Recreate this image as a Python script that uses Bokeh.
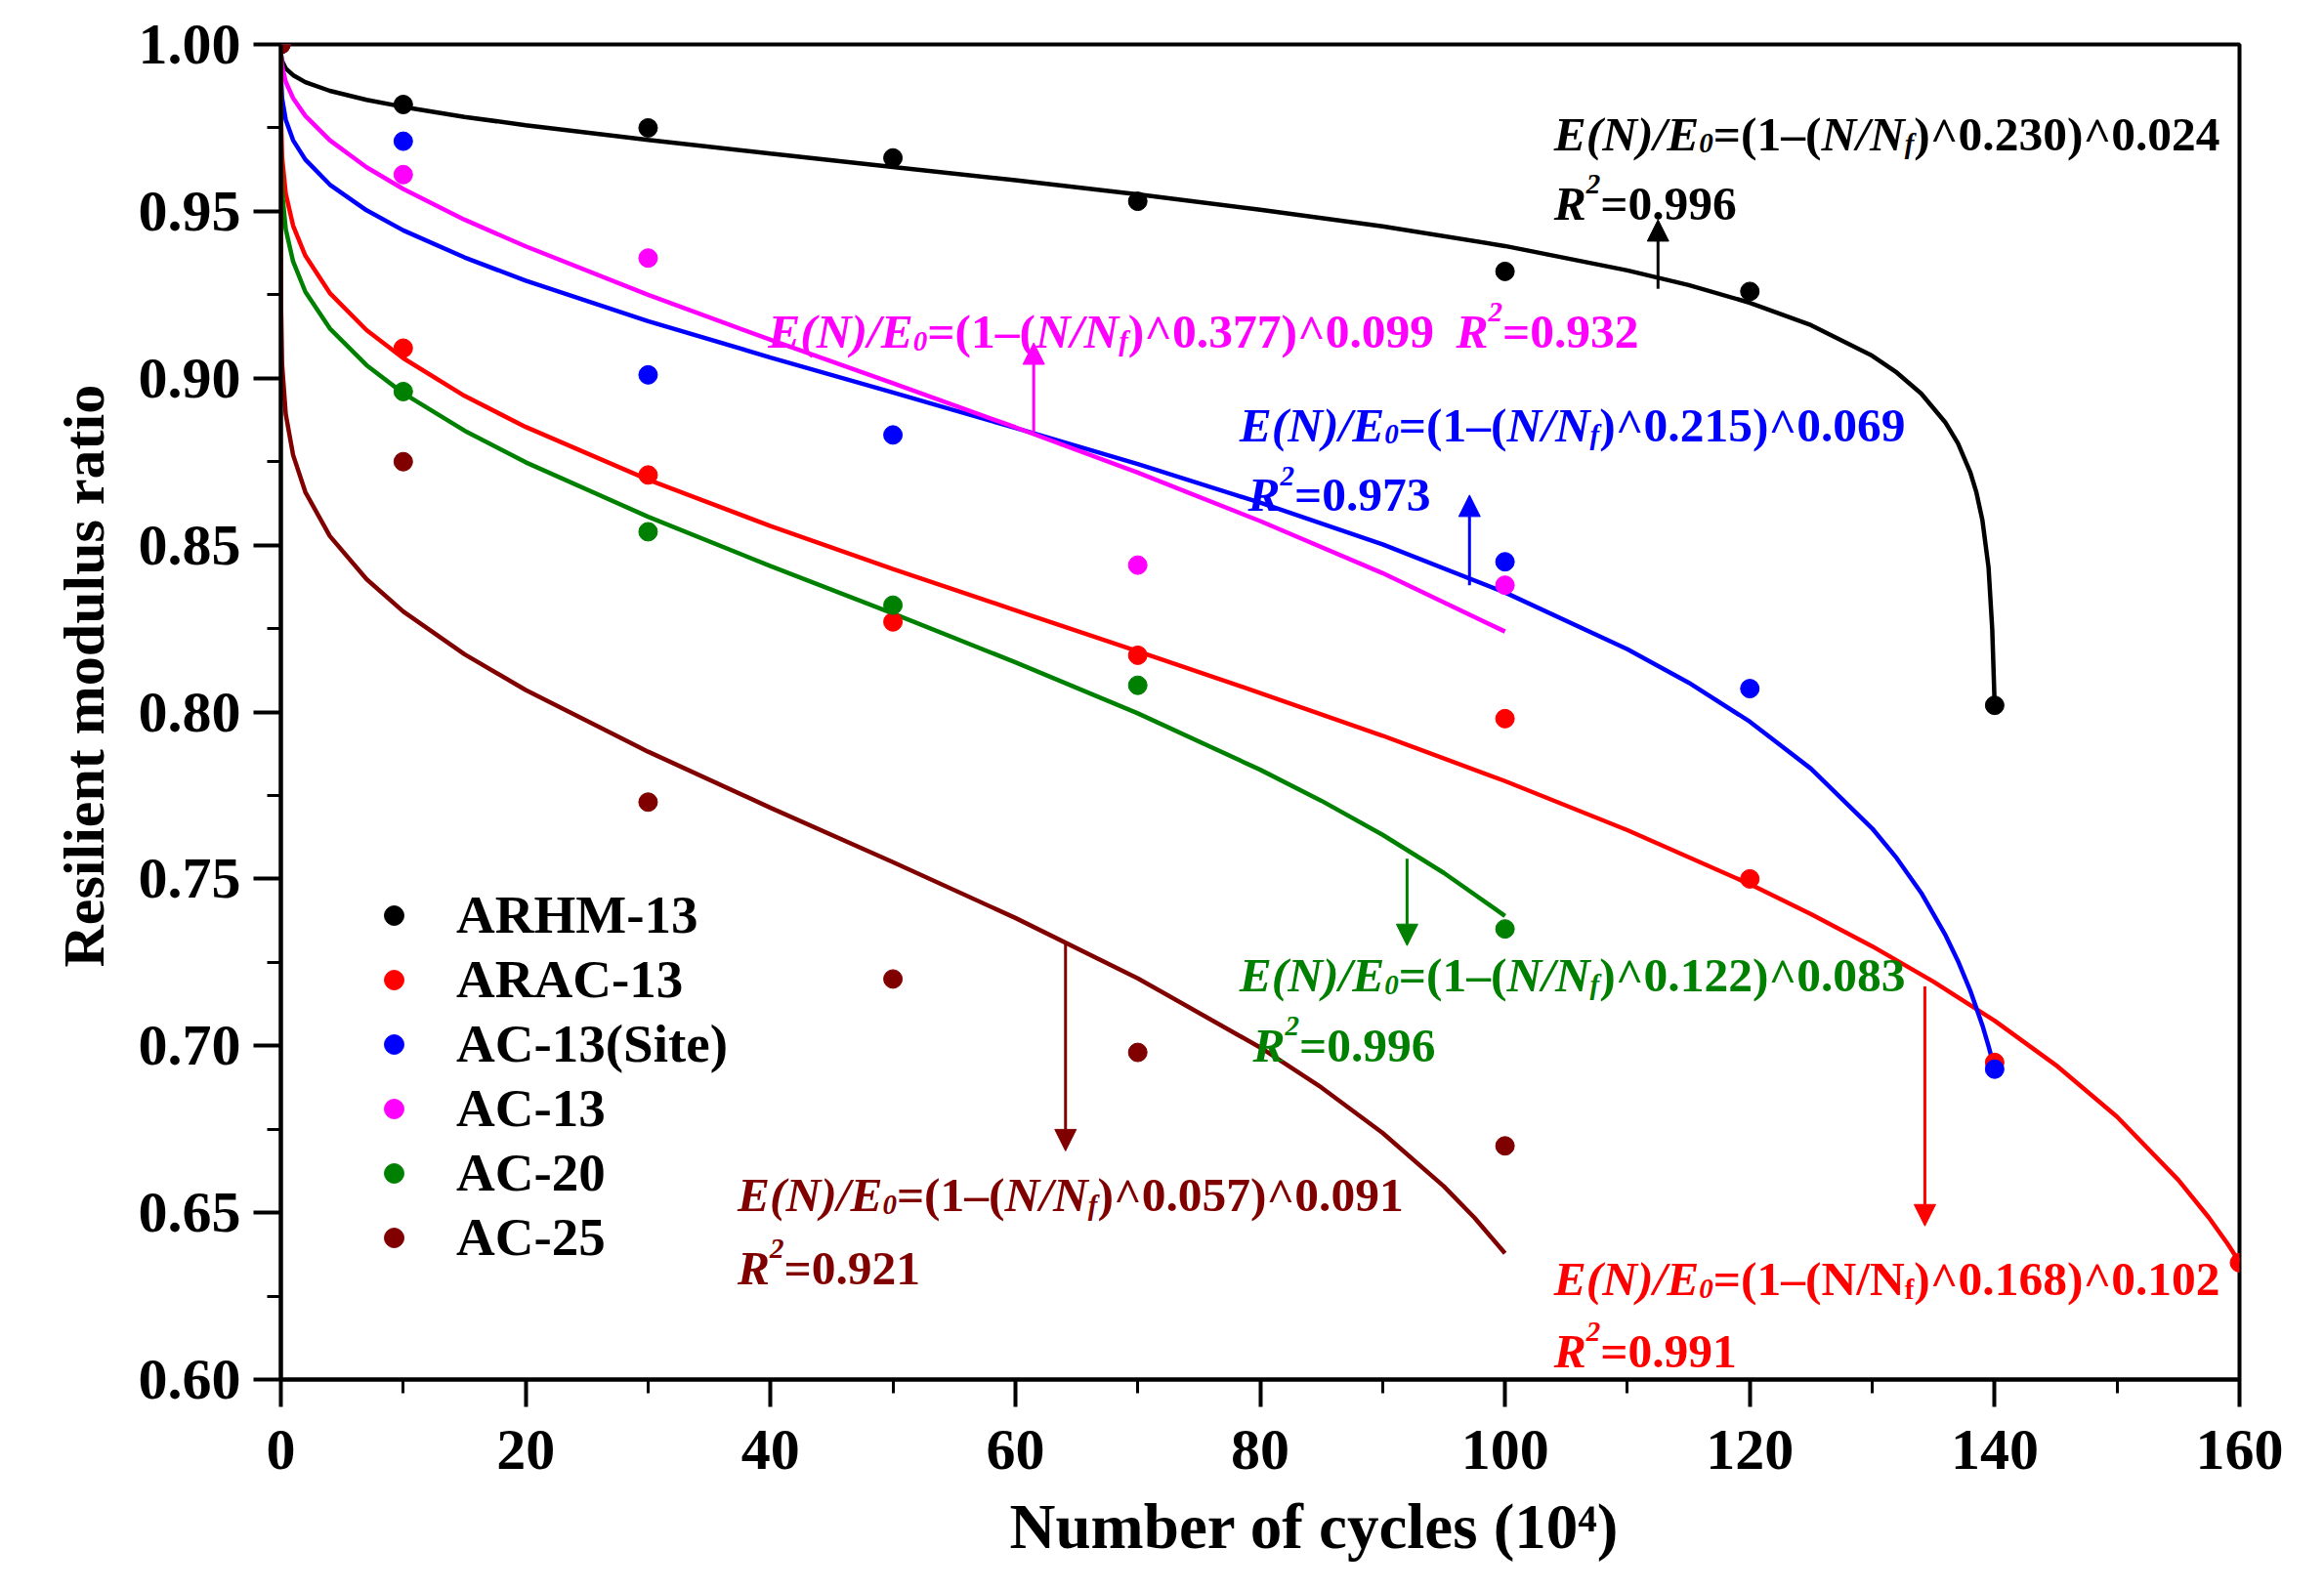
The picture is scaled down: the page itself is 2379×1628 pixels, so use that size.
from bokeh.plotting import figure
from bokeh.models import ColumnDataSource, SingleIntervalTicker, NumeralTickFormatter, Arrow, NormalHead, Range1d, Title
from bokeh.core.properties import value
from bokeh.embed import file_html
from bokeh.resources import INLINE

FONT = "Liberation Serif"

# measured points (cycles in 10^4, resilient modulus ratio)
series_names = ["ARHM-13", "ARAC-13", "AC-13(Site)", "AC-13", "AC-20", "AC-25"]
series_colors = ["#000000", "#ff0000", "#0000ff", "#ff00ff", "#008000", "#800000"]

cycles_arhm13 = [0, 10, 30, 50, 70, 100, 120, 140]
ratio_arhm13 = [1.000, 0.982, 0.975, 0.966, 0.953, 0.932, 0.926, 0.802]
cycles_arac13 = [0, 10, 30, 50, 70, 100, 120, 140, 160]
ratio_arac13 = [1.000, 0.909, 0.871, 0.827, 0.817, 0.798, 0.750, 0.695, 0.635]
cycles_ac13site = [0, 10, 30, 50, 100, 120, 140]
ratio_ac13site = [1.000, 0.971, 0.901, 0.883, 0.845, 0.807, 0.693]
cycles_ac13 = [0, 10, 30, 70, 100]
ratio_ac13 = [1.000, 0.961, 0.936, 0.844, 0.838]
cycles_ac20 = [0, 10, 30, 50, 70, 100]
ratio_ac20 = [1.000, 0.896, 0.854, 0.832, 0.808, 0.735]
cycles_ac25 = [0, 10, 30, 50, 70, 100]
ratio_ac25 = [1.000, 0.875, 0.773, 0.720, 0.698, 0.670]

# fitted curves
fit_n_arhm13 = [0, 0.01, 0.1, 0.4, 1, 2, 4, 7, 10, 15, 20, 30, 40, 50, 60, 70, 80, 90, 100,
                110, 115, 120, 125, 130, 132, 134, 136, 137, 138, 138.5, 139, 139.5, 139.8, 140]
fit_r_arhm13 = [1.000, 0.9972, 0.9950, 0.9928, 0.9908, 0.9887, 0.9861, 0.9834, 0.9813, 0.9783,
                0.9758, 0.9714, 0.9673, 0.9633, 0.9593, 0.9551, 0.9505, 0.9455, 0.9396,
                0.9323, 0.9279, 0.9226, 0.9159, 0.9067, 0.9017, 0.8954, 0.8866, 0.8805, 0.8719,
                0.8659, 0.8574, 0.8433, 0.8249, 0.802]
fit_n_arac13 = [0, 0.01, 0.1, 0.4, 1, 2, 4, 7, 10, 15, 20, 30, 40, 50, 60, 70, 80, 90, 100,
                110, 120, 125, 130, 135, 140, 145, 150, 155, 157.5, 159, 160]
fit_r_arac13 = [1.000, 0.9782, 0.9662, 0.9553, 0.9457, 0.9367, 0.9255, 0.9144, 0.9060, 0.8947,
                0.8854, 0.8696, 0.8557, 0.8428, 0.8305, 0.8182, 0.8057, 0.7929, 0.7793,
                0.7646, 0.7484, 0.7394, 0.7298, 0.7192, 0.7075, 0.6942, 0.6787, 0.6598, 0.6485,
                0.6408, 0.6352]
fit_n_ac13site = [0, 0.01, 0.1, 0.4, 1, 2, 4, 7, 10, 15, 20, 30, 40, 50, 60, 70, 80, 90, 100,
                  110, 115, 120, 125, 130, 132, 134, 136, 137, 138, 139, 139.5, 140]
fit_r_ac13site = [1.000, 0.9906, 0.9839, 0.9774, 0.9713, 0.9655, 0.9580, 0.9503, 0.9443, 0.9362,
                  0.9292, 0.9171, 0.9062, 0.8957, 0.8851, 0.8743, 0.8627, 0.8502, 0.8358,
                  0.8188, 0.8088, 0.7971, 0.7830, 0.7651, 0.7562, 0.7458, 0.7330, 0.7254, 0.7166,
                  0.7061, 0.6999, 0.6931]
fit_n_ac13 = [0, 0.01, 0.1, 0.4, 1, 2, 4, 7, 10, 15, 20, 30, 40, 50, 60, 70, 80, 90, 100]
fit_r_ac13 = [1.000, 0.9973, 0.9935, 0.9888, 0.9839, 0.9786, 0.9713, 0.9632, 0.9567, 0.9475,
              0.9395, 0.9250, 0.9115, 0.8985, 0.8853, 0.8717, 0.8572, 0.8416, 0.8241]
fit_n_ac20 = [0, 0.01, 0.1, 0.4, 1, 2, 4, 7, 10, 15, 20, 30, 40, 50, 60, 70, 80, 85, 90, 95, 100]
fit_r_ac20 = [1.000, 0.9689, 0.9559, 0.9446, 0.9350, 0.9259, 0.9149, 0.9039, 0.8955, 0.8843,
              0.8748, 0.8585, 0.8437, 0.8295, 0.8149, 0.7996, 0.7827, 0.7734, 0.7632, 0.7518,
              0.7389]
fit_n_ac25 = [0, 0.01, 0.1, 0.4, 1, 2, 4, 7, 10, 15, 20, 30, 40, 50, 60, 70, 80, 85, 90, 95,
              97.5, 100]
fit_r_ac25 = [1.000, 0.9226, 0.9041, 0.8892, 0.8770, 0.8659, 0.8527, 0.8398, 0.8301, 0.8173,
              0.8066, 0.7881, 0.7713, 0.7550, 0.7383, 0.7202, 0.6995, 0.6875, 0.6739, 0.6579,
              0.6485, 0.6378]

# fit labels: exponent a, exponent b, R^2
fit_a = ["0.230", "0.168", "0.215", "0.377", "0.122", "0.057"]
fit_b = ["0.024", "0.102", "0.069", "0.099", "0.083", "0.091"]
fit_r2 = ["0.996", "0.991", "0.973", "0.932", "0.996", "0.921"]

points = [(cycles_arhm13, ratio_arhm13), (cycles_arac13, ratio_arac13), (cycles_ac13site, ratio_ac13site),
          (cycles_ac13, ratio_ac13), (cycles_ac20, ratio_ac20), (cycles_ac25, ratio_ac25)]
fits = [(fit_n_arhm13, fit_r_arhm13), (fit_n_arac13, fit_r_arac13), (fit_n_ac13site, fit_r_ac13site),
        (fit_n_ac13, fit_r_ac13), (fit_n_ac20, fit_r_ac20), (fit_n_ac25, fit_r_ac25)]

# where the equations sit: equation anchor, R^2 anchor, arrow (x, from, to)
eq_pos = [(104.0, 0.9732), (104.0, 0.630), (78.3, 0.886), (39.8, 0.914), (78.3, 0.7212), (37.3, 0.6552)]
r2_pos = [(104.0, 0.9523), (104.0, 0.6084), (79.0, 0.865), (96.0, 0.914), (79.4, 0.700), (37.3, 0.6335)]
arrow_pos = [(112.5, 0.9268, 0.9475), (134.3, 0.7178, 0.646), (97.1, 0.838, 0.865),
             (61.5, 0.884, 0.9106), (92.0, 0.756, 0.730), (64.1, 0.7305, 0.6685)]

EQ_SIZE = 49.5
SMALL = 29

# Times / Liberation Serif bold advance widths (1/1000 em)
W_BOLD = {"(": 333, ")": 333, "/": 278, "=": 570, "^": 581, ".": 250, "–": 500,
          "E": 667, "N": 722, "R": 722, "f": 333}
W_ITAL = {"E": 667, "(": 333, "N": 722, ")": 333, "/": 278, "R": 667, "f": 333}


def text_width(s, italic, size):
    table = W_ITAL if italic else W_BOLD
    return sum(table.get(ch, 500) for ch in s) / 1000 * size


def equation(a, b, italic_n=True):
    return [("E(N)/E", True, ""), ("0", True, "sub"), ("=(1–(", False, ""),
            ("N/N", italic_n, ""), ("f", italic_n, "sub"), (")^" + a + ")^" + b, False, "")]


def r_squared(v):
    return [("R", True, ""), ("2", True, "sup"), ("=" + v, False, "")]


groups = {}


def add_label(x, y, color, segments):
    offset = 0.0
    for txt, italic, kind in segments:
        size = EQ_SIZE if kind == "" else SMALL
        yo = 0
        if kind == "sub":
            yo = 0.2 * EQ_SIZE
        elif kind == "sup":
            yo = -0.4 * EQ_SIZE
        g = groups.setdefault((italic, size), dict(x=[], y=[], text=[], xo=[], yo=[], color=[]))
        g["x"].append(x)
        g["y"].append(y)
        g["text"].append(txt)
        g["xo"].append(offset)
        g["yo"].append(yo)
        g["color"].append(color)
        offset += text_width(txt, italic, size)


p = figure(frame_width=2005, frame_height=1367, x_range=Range1d(0, 160), y_range=Range1d(0.6, 1.0),
           min_border_left=287, min_border_right=60, min_border_top=45, min_border_bottom=150,
           output_backend="svg", toolbar_location=None)

for (fn, fr), c in zip(fits, series_colors):
    p.line(fn, fr, line_width=4.5, color=c)

for (cx, cy), c, name in zip(points, series_colors, series_names):
    p.scatter(cx, cy, size=19, color=c, legend_label=name)

for i, c in enumerate(series_colors):
    add_label(eq_pos[i][0], eq_pos[i][1], c, equation(fit_a[i], fit_b[i], italic_n=(i != 1)))
    add_label(r2_pos[i][0], r2_pos[i][1], c, r_squared(fit_r2[i]))
    ax, y0, y1 = arrow_pos[i]
    p.add_layout(Arrow(end=NormalHead(size=22, fill_color=c, line_color=c, line_width=1),
                       x_start=ax, y_start=y0, x_end=ax, y_end=y1, line_color=c, line_width=3))

for (italic, size), g in groups.items():
    p.text(x="x", y="y", text="text", x_offset="xo", y_offset="yo", text_color="color",
           source=ColumnDataSource(g), text_font=value(FONT),
           text_font_style="bold italic" if italic else "bold",
           text_font_size=f"{size}px", text_baseline="alphabetic", text_align="left")

p.xaxis.ticker = SingleIntervalTicker(interval=20, num_minor_ticks=2)
p.yaxis.ticker = SingleIntervalTicker(interval=0.05, num_minor_ticks=2)
p.yaxis.formatter = NumeralTickFormatter(format="0.00")

for ax in (p.xaxis[0], p.yaxis[0]):
    ax.axis_line_width = 4
    ax.major_tick_line_width = 4
    ax.minor_tick_line_width = 3
    ax.major_tick_in = 0
    ax.major_tick_out = 28
    ax.minor_tick_in = 0
    ax.minor_tick_out = 14
    ax.major_label_text_font = FONT
    ax.major_label_text_font_style = "bold"
    ax.major_label_text_font_size = "60px"
    ax.major_label_text_color = "black"
p.xaxis.major_label_standoff = 24
p.yaxis.major_label_standoff = 13

# axis titles placed off-centre like the original
p.add_layout(Title(text="Number of cycles (10⁴)", align="left", offset=746, standoff=36,
                   text_font=FONT, text_font_style="bold", text_font_size="65px",
                   text_color="black"), "below")
p.add_layout(Title(text="Resilient modulus ratio", align="left", offset=422, standoff=40,
                   text_font=FONT, text_font_style="bold", text_font_size="60px",
                   text_color="black"), "left")

p.xgrid.visible = False
p.ygrid.visible = False
p.outline_line_color = "black"
p.outline_line_width = 4
p.outline_line_alpha = 1

p.legend.location = (91, 114)
p.legend.label_text_font = FONT
p.legend.label_text_font_style = "bold"
p.legend.label_text_font_size = "55px"
p.legend.label_text_color = "black"
p.legend.border_line_alpha = 0
p.legend.background_fill_alpha = 0
p.legend.padding = 0
p.legend.margin = 0
p.legend.spacing = 3
p.legend.glyph_width = 50
p.legend.glyph_height = 50
p.legend.label_height = 50
p.legend.label_standoff = 39

open("out.html", "w").write(file_html(p, INLINE))
